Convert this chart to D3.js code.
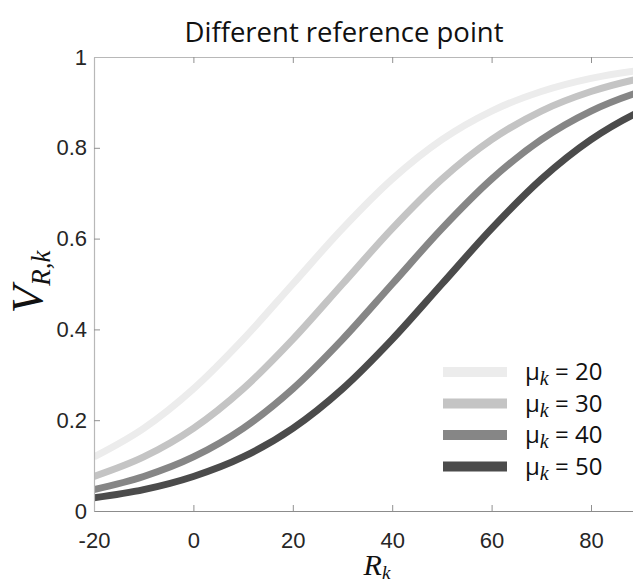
<!DOCTYPE html>
<html>
<head>
<meta charset="utf-8">
<script src="https://cdn.jsdelivr.net/npm/d3@7"></script>
<style>
  body { margin: 0; background: #fff; }
  svg { display: block; }
</style>
</head>
<body>
<div class="chart"></div>
<script>
    'use strict';

    // Data

    var titleText = 'Different reference point';
    var rValues = [-20, -10, 0, 10, 20, 30, 40, 50, 60, 70, 80, 90, 100];
    var vMu20 = [0.119, 0.182, 0.269, 0.378, 0.500, 0.622, 0.731, 0.818, 0.881, 0.924, 0.953, 0.971, 0.982];
    var vMu30 = [0.076, 0.119, 0.182, 0.269, 0.378, 0.500, 0.622, 0.731, 0.818, 0.881, 0.924, 0.953, 0.971];
    var vMu40 = [0.047, 0.076, 0.119, 0.182, 0.269, 0.378, 0.500, 0.622, 0.731, 0.818, 0.881, 0.924, 0.953];
    var vMu50 = [0.029, 0.047, 0.076, 0.119, 0.182, 0.269, 0.378, 0.500, 0.622, 0.731, 0.818, 0.881, 0.924];
    var seriesNames = ['20', '30', '40', '50'];
    var xTicks = [-20, 0, 20, 40, 60, 80];
    var yTicks = [0, 0.2, 0.4, 0.6, 0.8, 1];

    (function () {
        var width = 633;
        var height = 585;
        var plotLeft = 94;
        var plotTop = 57;
        var plotBottom = 511;
        var pxPerUnit = 4.97;      // measured from tick spacing
        var tickFont = '"Liberation Sans", Arial, sans-serif';
        var textFont = '"Open Sans", "Noto Sans", sans-serif';
        var mathFont = '"Liberation Serif", "DejaVu Serif", serif';
        var colors = ['#ececec', '#c4c4c4', '#868686', '#4b4b4b'];

        var series = [vMu20, vMu30, vMu40, vMu50].map(function (vals, i) {
            return {
                name: seriesNames[i],
                color: colors[i],
                points: rValues.map(function (r, j) { return [r, vals[j]]; })
            };
        });

        var x = d3.scaleLinear()
            .domain([-20, 100])
            .range([plotLeft, plotLeft + 120 * pxPerUnit]);
        var y = d3.scaleLinear()
            .domain([0, 1])
            .range([plotBottom, plotTop]);

        var svg = d3.select('.chart')
            .append('svg')
                .attr('width', width)
                .attr('height', height);

        // Title
        svg.append('text')
            .text(titleText)
            .attr('x', 344)
            .attr('y', 42)
            .attr('text-anchor', 'middle')
            .attr('font-family', textFont)
            .attr('font-size', 27.5)
            .attr('fill', '#111');

        // Clip for curves
        svg.append('clipPath')
            .attr('id', 'plotClip')
            .append('rect')
                .attr('x', plotLeft)
                .attr('y', plotTop)
                .attr('width', width - plotLeft)
                .attr('height', plotBottom - plotTop);

        // Curves
        var line = d3.line()
            .x(function (d) { return x(d[0]); })
            .y(function (d) { return y(d[1]); })
            .curve(d3.curveMonotoneX);

        svg.append('g')
            .attr('clip-path', 'url(#plotClip)')
            .selectAll('path')
            .data(series)
            .enter()
            .append('path')
                .attr('d', function (d) { return line(d.points); })
                .attr('fill', 'none')
                .attr('stroke', function (d) { return d.color; })
                .attr('stroke-width', 7);

        // Bottom axis, ticks pointing in
        var xAxis = svg.append('g')
            .attr('transform', 'translate(0,' + plotBottom + ')')
            .call(d3.axisBottom(x).tickValues(xTicks).tickSizeInner(-6).tickSizeOuter(0).tickPadding(21)
                .tickFormat(function (d) { return String(d); }));

        // Top border with ticks
        var xTop = svg.append('g')
            .attr('transform', 'translate(0,' + plotTop + ')')
            .call(d3.axisTop(x).tickValues(xTicks.slice(1)).tickSizeInner(-6).tickSizeOuter(0).tickFormat(''));

        // Left axis
        var yAxis = svg.append('g')
            .attr('transform', 'translate(' + plotLeft + ',0)')
            .call(d3.axisLeft(y).tickValues(yTicks).tickSizeInner(-6).tickSizeOuter(0).tickPadding(7)
                .tickFormat(function (d) { return d === 0 || d === 1 ? String(d) : d.toFixed(1); }));

        [xAxis, xTop, yAxis].forEach(function (g) {
            g.select('.domain').attr('stroke', '#b8b8b8').attr('stroke-width', 1.2);
            g.selectAll('.tick line').attr('stroke', '#909090');
            g.selectAll('.tick text')
                .attr('font-family', tickFont)
                .attr('font-size', 22)
                .attr('fill', '#262626');
        });
        xAxis.select('.domain').attr('stroke', '#8c8c8c');
        xAxis.select('.domain').attr('d', 'M' + plotLeft + ',0.5H' + width);
        xTop.select('.domain').attr('d', 'M' + plotLeft + ',0.5H' + width);
        yAxis.selectAll('.tick line').filter(function (d) { return d === 0 || d === 1; }).remove();
        xAxis.selectAll('.tick line').filter(function (d) { return d === -20; }).remove();

        // Axis labels
        var yLabel = svg.append('text')
            .attr('transform', 'translate(42,282) rotate(-90)')
            .attr('text-anchor', 'middle')
            .attr('font-family', mathFont)
            .attr('font-style', 'italic')
            .attr('fill', '#111');
        yLabel.append('tspan').text('V').attr('font-size', 45);
        yLabel.append('tspan').text('R,k').attr('font-size', 27).attr('dy', 8);

        var xLabel = svg.append('text')
            .attr('x', 377)
            .attr('y', 575)
            .attr('text-anchor', 'middle')
            .attr('font-family', mathFont)
            .attr('font-style', 'italic')
            .attr('fill', '#111');
        xLabel.append('tspan').text('R').attr('font-size', 30);
        xLabel.append('tspan').text('k').attr('font-size', 19).attr('dy', 4);

        // Legend
        var legend = svg.selectAll('g.legend')
            .data(series)
            .enter()
            .append('g')
                .attr('class', 'legend')
                .attr('transform', function (d, i) { return 'translate(443,' + (372 + i * 31.5) + ')'; });

        legend.append('rect')
            .attr('x', 0)
            .attr('y', -5)
            .attr('width', 64)
            .attr('height', 10)
            .attr('fill', function (d) { return d.color; });

        var legendText = legend.append('text')
            .attr('x', 82)
            .attr('y', 8)
            .attr('font-family', textFont)
            .attr('font-size', 24)
            .attr('fill', '#111');
        legendText.append('tspan').text('μ');
        legendText.append('tspan').text('k')
            .attr('font-family', mathFont)
            .attr('font-style', 'italic')
            .attr('font-size', 20)
            .attr('dy', 5);
        legendText.append('tspan').text(function (d) { return ' = ' + d.name; })
            .attr('dy', -5);
    })();
</script>
</body>
</html>
